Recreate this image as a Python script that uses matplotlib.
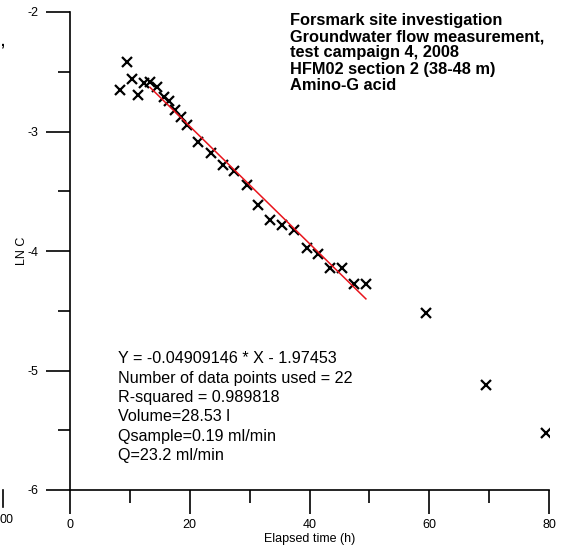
import numpy as np
import matplotlib
matplotlib.use("Agg")
import matplotlib.pyplot as plt
from matplotlib.lines import Line2D

# elapsed time (h) and ln C
tid = [8.35, 9.47, 10.40, 11.40, 12.35, 13.36, 14.47, 15.69, 16.53, 17.53,
       18.48, 19.48, 21.42, 23.49, 25.49, 27.43, 29.50, 31.44, 33.39, 35.44,
       37.45, 39.52, 41.45, 43.41, 45.36, 47.46, 49.42, 59.43, 69.45, 79.47]
lnc = [-2.653, -2.416, -2.561, -2.695, -2.597, -2.583, -2.625, -2.714, -2.742, -2.820,
       -2.876, -2.946, -3.085, -3.177, -3.280, -3.331, -3.448, -3.615, -3.741, -3.782,
       -3.824, -3.977, -4.025, -4.145, -4.145, -4.276, -4.276, -4.516, -5.121, -5.523]

# regression used points 6..27 (22 points)
fit_first, fit_last = 5, 27
slope = -0.04909146
icept = -1.97453

info = ["Y = -0.04909146 * X - 1.97453",
        "Number of data points used = 22",
        "R-squared = 0.989818",
        "Volume=28.53 l",
        "Qsample=0.19 ml/min",
        "Q=23.2 ml/min"]
titel = ["Forsmark site investigation",
         "Groundwater flow measurement,",
         "test campaign 4, 2008",
         "HFM02 section 2 (38-48 m)",
         "Amino-G acid"]

plt.rcParams['font.family'] = ['Liberation Sans', 'DejaVu Sans']
plt.rcParams['axes.unicode_minus'] = False

W, H = 561, 550
fig = plt.figure(figsize=(W / 100, H / 100), dpi=100)
ax = fig.add_axes([70 / W, 1 - 490 / H, 479 / W, 478 / H])

ax.plot(tid, lnc, ls="none", marker="x", color="black", ms=7, mew=1.6)

xf = np.array([tid[fit_first], tid[fit_last - 1]])
ax.plot(xf, slope * xf + icept, color="#e8141c", lw=1.1)

ax.set_xlim(0, 80)
ax.set_ylim(-6, -2)
ax.set_xticks([0, 20, 40, 60, 80])
ax.set_xticks([10, 30, 50, 70], minor=True)
ax.set_yticks([-6, -5, -4, -3, -2])
ax.set_yticks([-5.5, -4.5, -3.5, -2.5], minor=True)
ax.spines['top'].set_visible(False)
ax.spines['right'].set_visible(False)
for s in ['left', 'bottom']:
    ax.spines[s].set_linewidth(1.2)
ax.tick_params(which="major", direction="out", length=17, width=1.2, labelsize=9)
ax.tick_params(which="minor", direction="out", length=9, width=1.2)
ax.tick_params(axis="x", pad=4)
ax.tick_params(axis="y", pad=6)
ax.set_xlabel("Elapsed time (h)", fontsize=9, labelpad=1)
ax.set_ylabel("LN C", fontsize=9, labelpad=-1)

ax.text(0.100, 0.290, "\n".join(info), transform=ax.transAxes,
        ha="left", va="top", fontsize=11.6, linespacing=1.36)
ax.text(0.459, 0.998, "\n".join(titel), transform=ax.transAxes,
        ha="left", va="top", fontsize=11.8, fontweight="bold", linespacing=1.1)

# bits of the neighbouring chart at the left edge
fig.text(0, 1 - 520 / H, "00", ha="left", va="center", fontsize=9)
fig.add_artist(Line2D([3 / W, 3 / W], [1 - 490 / H, 1 - 507 / H],
                      color="black", lw=1.2, transform=fig.transFigure))
fig.text(0, 1 - 42 / H, ",", ha="left", va="center", fontsize=10, fontweight="bold")

fig.savefig("out.png", dpi=100)
